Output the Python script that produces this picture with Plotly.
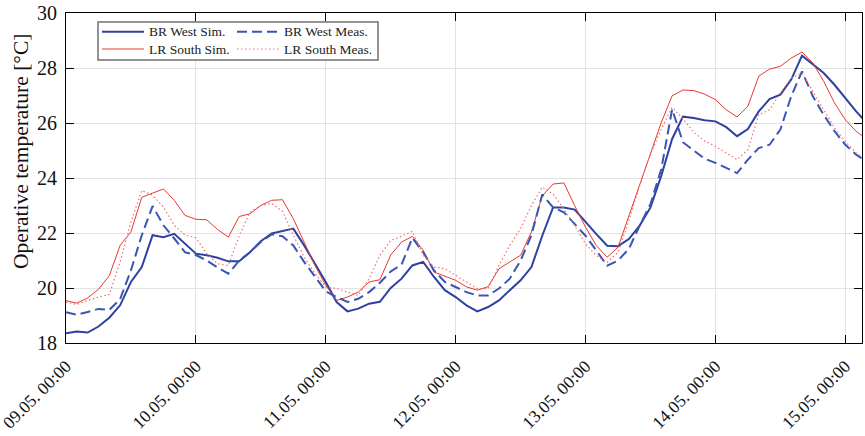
import pandas as pd
import plotly.graph_objects as go

# time axis: every 2 hours from 09.05. 00:00
times = pd.date_range("2016-05-09 00:00", periods=75, freq="2h")

br_west_sim = [18.35, 18.42, 18.38, 18.6, 18.92, 19.37, 20.22, 20.76, 21.92, 21.85, 21.97, 21.6,
               21.25, 21.19, 21.1, 20.97, 20.97, 21.3, 21.7, 21.98, 22.08, 22.16, 21.55, 20.88,
               20.22, 19.49, 19.15, 19.25, 19.43, 19.5, 20.0, 20.34, 20.82, 20.95, 20.4, 19.92,
               19.67, 19.37, 19.15, 19.31, 19.55, 19.92, 20.28, 20.76, 21.9, 22.93, 22.93, 22.85,
               22.39, 21.96, 21.54, 21.52, 21.78, 22.27, 22.93, 24.08, 25.42, 26.23, 26.18, 26.1,
               26.06, 25.85, 25.52, 25.78, 26.42, 26.87, 27.03, 27.58, 28.45, 28.12, 27.82, 27.39,
               26.91, 26.42, 26.0]

br_west_meas = [19.12, 19.03, 19.13, 19.24, 19.2, 19.6, 20.64, 21.92, 22.98, 22.28, 21.8, 21.3,
                21.2, 21.0, 20.75, 20.52, 21.0, 21.3, 21.67, 21.95, 21.88, 21.55, 20.95, 20.4,
                19.88, 19.67, 19.49, 19.61, 19.85, 20.19, 20.6, 20.85, 21.82, 21.3, 20.64, 20.22,
                20.04, 19.85, 19.73, 19.73, 19.98, 20.34, 21.0, 21.92, 23.4, 22.93, 22.75, 22.33,
                21.9, 21.36, 20.81, 21.0, 21.42, 22.27, 23.05, 24.33, 26.5, 25.3, 25.0, 24.7,
                24.55, 24.36, 24.18, 24.67, 25.09, 25.21, 25.76, 26.97, 27.88, 26.97, 26.3, 25.7,
                25.21, 24.85, 24.6]

lr_south_sim = [19.54, 19.45, 19.64, 19.95, 20.45, 21.55, 22.04, 23.3, 23.45, 23.6, 23.19, 22.64,
                22.5, 22.48, 22.13, 21.85, 22.6, 22.7, 23.0, 23.19, 23.21, 22.52, 21.67, 20.82,
                20.1, 19.55, 19.67, 19.85, 20.22, 20.3, 21.2, 21.67, 21.88, 21.37, 20.58, 20.42,
                20.28, 20.04, 19.92, 20.05, 20.7, 20.95, 21.19, 22.04, 23.35, 23.78, 23.82, 22.99,
                22.21, 21.54, 21.12, 21.48, 22.63, 23.72, 24.93, 26.02, 26.99, 27.2, 27.18, 27.05,
                26.85, 26.48, 26.22, 26.61, 27.7, 27.96, 28.06, 28.36, 28.58, 28.18, 27.52, 26.73,
                26.12, 25.7, 25.4]

lr_south_meas = [19.49, 19.4, 19.55, 19.67, 19.76, 20.95, 22.4, 23.55, 23.37, 22.95, 22.28, 21.92,
                 21.83, 21.25, 20.88, 20.82, 21.9, 22.76, 23.0, 23.07, 22.79, 21.92, 21.13, 20.52,
                 20.04, 19.98, 19.85, 19.73, 20.34, 21.19, 21.73, 21.88, 22.06, 21.19, 20.76, 20.7,
                 20.46, 20.22, 19.98, 19.98, 20.82, 21.55, 22.16, 23.0, 23.67, 23.42, 22.87, 22.27,
                 21.6, 21.18, 20.93, 21.3, 22.45, 23.72, 24.87, 25.78, 26.57, 26.15, 25.66, 25.35,
                 25.15, 24.91, 24.67, 25.03, 26.3, 26.48, 27.09, 27.64, 27.82, 27.15, 26.48, 25.82,
                 25.33, 24.91, 24.65]

y_ticks = [18, 20, 22, 24, 26, 28, 30]
series_names = ["BR West Sim.", "BR West Meas.", "LR South Sim.", "LR South Meas."]

BLUE = "#2f41a0"
BLUE_D = "#3a55b5"
RED = "#e53a30"
RED_D = "#f07070"

styles = {
    "BR West Sim.": dict(color=BLUE, width=2),
    "BR West Meas.": dict(color=BLUE_D, width=2, dash="10px,5px"),
    "LR South Sim.": dict(color=RED, width=1),
    "LR South Meas.": dict(color=RED_D, width=1.2, dash="1.5px,2.5px"),
}
values = {
    "BR West Sim.": br_west_sim,
    "BR West Meas.": br_west_meas,
    "LR South Sim.": lr_south_sim,
    "LR South Meas.": lr_south_meas,
}

W, H = 865, 436
ML, MR, MT, MB = 66, 3, 13, 93
PW, PH = W - ML - MR, H - MT - MB


def px(x):
    return (x - ML) / PW


def py(y):
    return 1 - (y - MT) / PH


fig = go.Figure()
for name in ["BR West Sim.", "LR South Sim.", "BR West Meas.", "LR South Meas."]:
    fig.add_trace(go.Scatter(x=times, y=values[name], name=name, mode="lines",
                             line=styles[name], showlegend=False))

FONT = "Liberation Serif, Times New Roman, serif"

# legend box drawn in the top-left corner of the plot
shapes = [dict(type="rect", xref="paper", yref="paper",
               x0=px(98), x1=px(378), y0=py(60), y1=py(22),
               line=dict(color="#707070", width=1.5), fillcolor="white", layer="above")]
annotations = []
legend_pos = {
    "BR West Sim.": (102, 144, 147, 31.7),
    "BR West Meas.": (237, 279, 282, 31.7),
    "LR South Sim.": (102, 144, 147, 49),
    "LR South Meas.": (237, 279, 282, 49),
}
for name in series_names:
    lx0, lx1, tx, ly = legend_pos[name]
    shapes.append(dict(type="line", xref="paper", yref="paper",
                       x0=px(lx0), x1=px(lx1), y0=py(ly), y1=py(ly),
                       line=styles[name], layer="above"))
    annotations.append(dict(text=name, xref="paper", yref="paper", x=px(tx), y=py(ly),
                            xanchor="left", yanchor="middle", showarrow=False,
                            font=dict(family=FONT, size=13.5, color="#222")))

annotations.append(dict(text="Operative temperature [°C]", xref="paper", yref="paper",
                        x=px(21), y=py(152), xanchor="center", yanchor="middle",
                        textangle=-90, showarrow=False,
                        font=dict(family=FONT, size=21.5, color="#111")))

fig.update_layout(
    template="none",
    width=W, height=H,
    margin=dict(l=ML, r=MR, t=MT, b=MB, autoexpand=False),
    paper_bgcolor="white", plot_bgcolor="white",
    font=dict(family=FONT, size=19, color="black"),
    showlegend=False,
    shapes=shapes,
    annotations=annotations,
    xaxis=dict(
        type="date", automargin=False,
        range=["2016-05-09 00:00", "2016-05-15 03:05"],
        tickformat="%d.%m. %H:%M", dtick=86400000, tick0="2016-05-09",
        tickangle=-45, ticks="inside", ticklen=8, tickcolor="black",
        ticklabeloverflow="allow", ticklabelstandoff=5,
        showline=True, linecolor="black", linewidth=1, mirror="ticks",
        showgrid=True, gridcolor="#e3e3e3", gridwidth=1, zeroline=False,
        tickfont=dict(family=FONT, size=17.5, color="#111"),
    ),
    yaxis=dict(
        range=[18, 30], tickvals=y_ticks, automargin=False,
        ticks="inside", ticklen=8, tickcolor="black",
        showline=True, linecolor="black", linewidth=1, mirror="ticks",
        showgrid=True, gridcolor="#e3e3e3", gridwidth=1, zeroline=False,
        ticklabelstandoff=4,
        tickfont=dict(family=FONT, size=20, color="#111"),
    ),
)

fig.write_html("out.html", config={"displayModeBar": False},
               post_script="document.body.style.margin='0';")
